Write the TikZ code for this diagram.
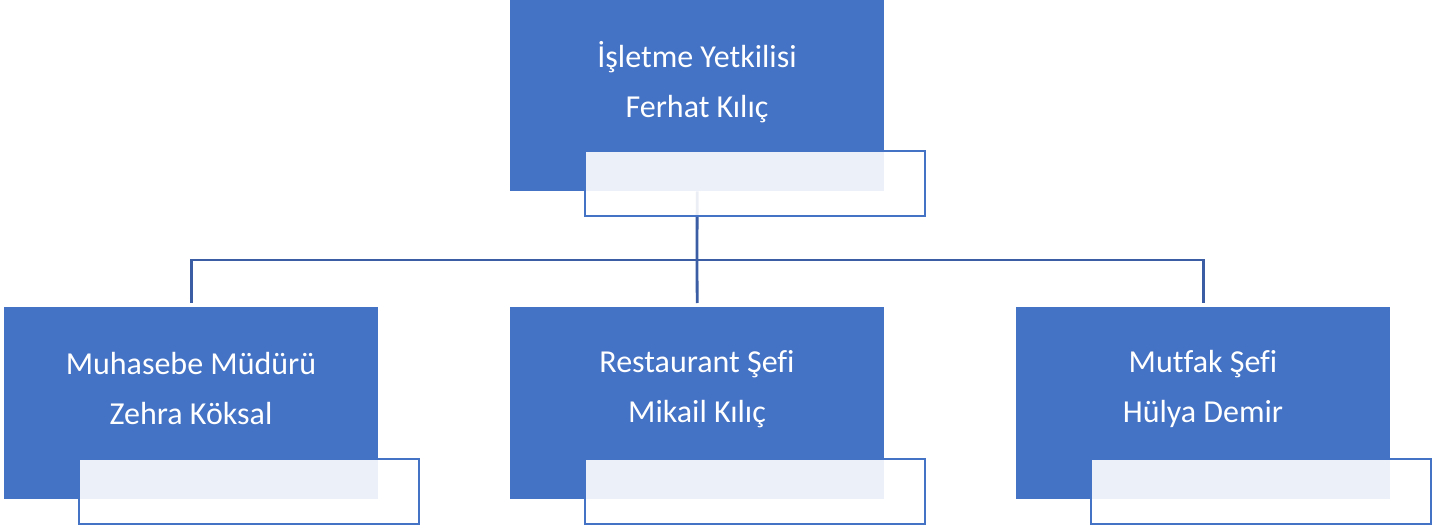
\documentclass[tikz,border=0pt]{standalone}
\usepackage{fontspec}
\setmainfont[Ligatures=CommonOff]{Carlito}
\definecolor{boxblue}{HTML}{4472C4}
\definecolor{linkblue}{HTML}{3A5DA3}
\begin{document}
\begin{tikzpicture}[x=1pt,y=-1pt,
  bluebox/.style={fill=boxblue, draw=none, minimum width=374pt, minimum height=192pt, inner sep=0pt, anchor=north west},
  tagbox/.style={fill=white, fill opacity=0.9, draw=boxblue, line width=2pt, minimum width=340pt, minimum height=65pt, inner sep=0pt, anchor=north west},
  label/.style={text=white, font=\fontsize{32}{50}\selectfont, align=center},
  link/.style={draw=linkblue, line width=2.8pt}]
\useasboundingbox (0,0) rectangle (1447,529);
% blue boxes
\node[bluebox] (top) at (510,-1) {};
\node[bluebox] (acc) at (4,307) {};
\node[bluebox] (rest) at (510,307) {};
\node[bluebox] (kit) at (1016,307) {};
% connectors
\coordinate (hub) at (697,260);
\draw[link] (top.south) -- (hub);
\draw[link, shorten >=4pt] (hub) -| (acc.north);
\draw[link, shorten >=4pt] (hub) -- (rest.north);
\draw[link, shorten >=4pt] (hub) -| (kit.north);
% texts
\node[label] (ttop) at (697,82) {İşletme Yetkilisi\\Ferhat Kılıç};
\node[label] (tacc) at (191,389) {Muhasebe Müdürü\\Zehra Köksal};
\node[label] (trest) at (697,389) {Restaurant Şefi\\Mikail Kılıç};
\node[label] (tkit) at (1203,389) {Mutfak Şefi\\Hülya Demir};
% tag boxes
\node[tagbox] (gtop) at (584,150) {};
\node[tagbox] (gacc) at (78,458) {};
\node[tagbox] (grest) at (584,458) {};
\node[tagbox] (gkit) at (1090,458) {};
\end{tikzpicture}
\end{document}
